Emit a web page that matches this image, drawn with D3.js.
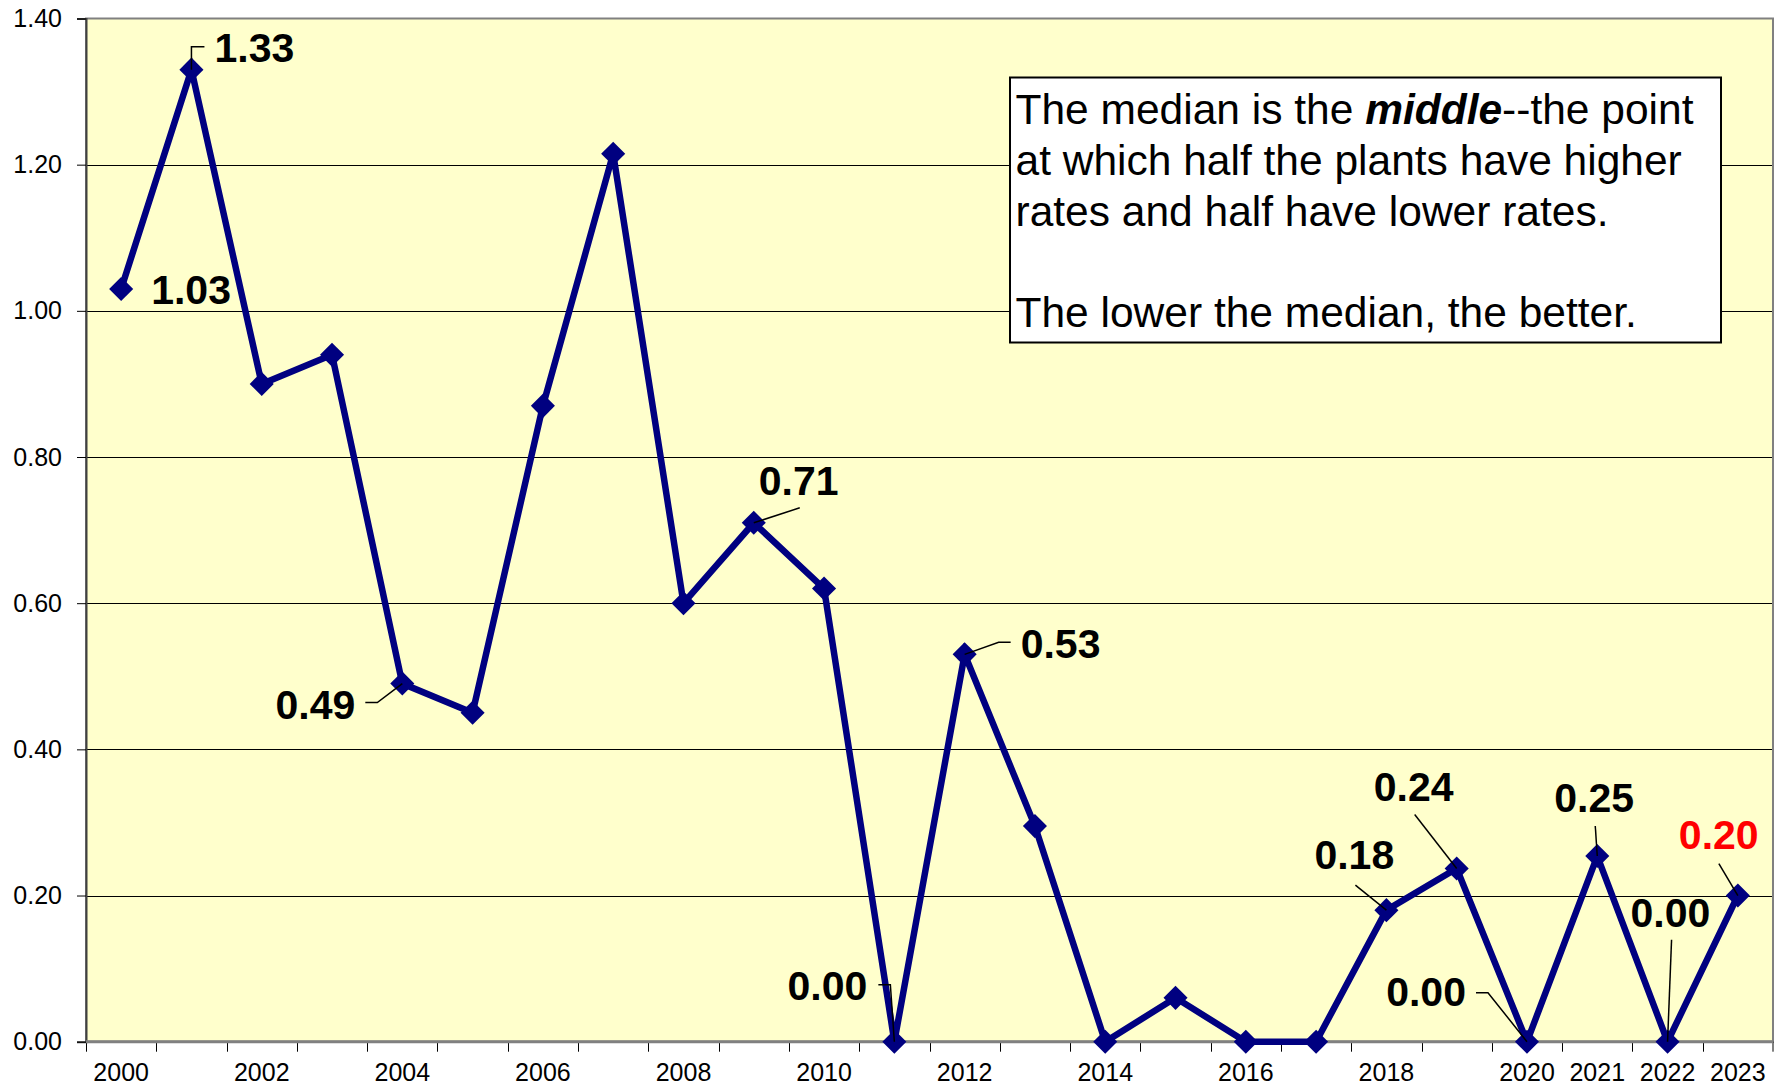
<!DOCTYPE html>
<html>
<head>
<meta charset="utf-8">
<script src="https://cdn.jsdelivr.net/npm/d3@7"></script>
<style>
  body { margin: 0; background: #fff; }
  svg { display: block; font-family: Arial, "Liberation Sans", sans-serif; }
</style>
</head>
<body>
<div id="chart"></div>
<script>
// data
var years = ["2000","2001","2002","2003","2004","2005","2006","2007","2008","2009","2010","2011",
             "2012","2013","2014","2015","2016","2017","2018","2019","2020","2021","2022","2023"];
var medians = [1.03, 1.33, 0.90, 0.94, 0.49, 0.45, 0.87, 1.215, 0.60, 0.71, 0.62, 0.00,
               0.53, 0.295, 0.00, 0.06, 0.00, 0.00, 0.18, 0.237, 0.00, 0.254, 0.00, 0.20];
var xTickLabels = ["2000","","2002","","2004","","2006","","2008","","2010","",
                   "2012","","2014","","2016","","2018","","2020","2021","2022","2023"];
var yTicks = [0, 0.2, 0.4, 0.6, 0.8, 1.0, 1.2, 1.4];
var labelledYears = ["2000","2001","2004","2009","2011","2012","2018","2019","2020","2021","2022","2023"];
var noteLines = [
  [{t: "The median is the "}, {t: "middle", em: true}, {t: "--the point"}],
  [{t: "at which half the plants have higher"}],
  [{t: "rates and half have lower rates."}],
  [{t: ""}],
  [{t: "The lower the median, the better."}]
];

// layout of the data label callouts (offsets from the point, in px)
var callouts = {
  "2000": {dx: 30, dy: 15, anchor: "start", leader: null},
  "2001": {dx: 23, dy: -8, anchor: "start", leader: [[0, 0], [0, -23], [13, -23]]},
  "2004": {dx: -47, dy: 35, anchor: "end", leader: [[0, 0], [-25, 19], [-37, 19]]},
  "2009": {dx: 5, dy: -28, anchor: "start", leader: [[0, 0], [46, -15]]},
  "2011": {dx: -27, dy: -42, anchor: "end", leader: [[0, 0], [-4, -57], [-16, -57]]},
  "2012": {dx: 56, dy: 4, anchor: "start", leader: [[0, 0], [34, -12], [46, -12]]},
  "2018": {dx: -72, dy: -41, anchor: "start", leader: [[0, 0], [-31, -25]]},
  "2019": {dx: -83, dy: -67, anchor: "start", leader: [[0, 0], [-42, -54]]},
  "2020": {dx: -61, dy: -36, anchor: "end", leader: [[0, 0], [-39, -49], [-51, -49]]},
  "2021": {dx: -43, dy: -44, anchor: "start", leader: [[0, 0], [-2, -30]]},
  "2022": {dx: -37, dy: -115, anchor: "start", leader: [[0, 0], [4, -102]]},
  "2023": {dx: -59, dy: -47, anchor: "start", leader: [[0, 0], [-19, -32]], color: "#ff0000"}
};

var width = 1785, height = 1087;
var plot = {left: 86, right: 1773, top: 18.5, bottom: 1041.7};

var svg = d3.select("#chart").append("svg")
  .attr("width", width)
  .attr("height", height);

var x = d3.scaleBand()
  .domain(years)
  .range([plot.left, plot.right])
  .padding(0);

var y = d3.scaleLinear()
  .domain([0, 1.4])
  .range([plot.bottom, plot.top]);

var cx = function(yr) { return x(yr) + x.bandwidth() / 2; };

// plot background
svg.append("rect")
  .attr("x", plot.left).attr("y", plot.top)
  .attr("width", plot.right - plot.left).attr("height", plot.bottom - plot.top)
  .attr("fill", "#ffffcc");

// gridlines
svg.append("g").attr("class", "grid")
  .selectAll("line")
  .data(yTicks.filter(function(d) { return d > 0 && d < 1.4; }))
  .enter().append("line")
  .attr("x1", plot.left).attr("x2", plot.right)
  .attr("y1", function(d) { return Math.round(y(d)) + 0.5; })
  .attr("y2", function(d) { return Math.round(y(d)) + 0.5; })
  .attr("stroke", "#000").attr("stroke-width", 1);

// frame
svg.append("rect")
  .attr("x", plot.left).attr("y", plot.top)
  .attr("width", plot.right - plot.left).attr("height", plot.bottom - plot.top)
  .attr("fill", "none").attr("stroke", "#808080").attr("stroke-width", 2);

// y axis
var leftAxis = d3.axisLeft(y)
  .tickValues(yTicks)
  .tickFormat(d3.format(".2f"))
  .tickSize(9)
  .tickPadding(15);

var gy = svg.append("g")
  .attr("transform", "translate(" + plot.left + ",0)")
  .call(leftAxis);
gy.select(".domain").attr("stroke", "#404040").attr("stroke-width", 2);
gy.selectAll(".tick line").attr("stroke", "#000");
gy.selectAll(".tick text").attr("font-size", 25).attr("font-family", null).attr("fill", "#000");

// x axis: labels at category centres, ticks between categories
var bottomAxis = d3.axisBottom(x)
  .tickFormat(function(d, i) { return xTickLabels[i]; })
  .tickSize(0)
  .tickPadding(22);

var gx = svg.append("g")
  .attr("transform", "translate(0," + plot.bottom + ")")
  .call(bottomAxis);
gx.select(".domain").remove();
gx.selectAll(".tick text").attr("font-size", 25).attr("font-family", null).attr("fill", "#000");

svg.append("g").attr("class", "xticks")
  .selectAll("line")
  .data(years.concat(["end"]))
  .enter().append("line")
  .attr("x1", function(d) { return d === "end" ? plot.right : Math.round(x(d)) + 0.5; })
  .attr("x2", function(d) { return d === "end" ? plot.right : Math.round(x(d)) + 0.5; })
  .attr("y1", plot.bottom).attr("y2", plot.bottom + 10)
  .attr("stroke", "#000").attr("stroke-width", 1);

svg.append("line")
  .attr("x1", plot.left).attr("x2", plot.right)
  .attr("y1", plot.bottom).attr("y2", plot.bottom)
  .attr("stroke", "#808080").attr("stroke-width", 3);

// series line
var line = d3.line()
  .x(function(d, i) { return cx(years[i]); })
  .y(function(d) { return y(d); });

svg.append("path")
  .datum(medians)
  .attr("d", line)
  .attr("fill", "none")
  .attr("stroke", "#000080")
  .attr("stroke-width", 6.5)
  .attr("stroke-linejoin", "miter");

// diamond markers
svg.append("g").attr("class", "markers")
  .selectAll("path")
  .data(medians)
  .enter().append("path")
  .attr("d", d3.symbol().type(d3.symbolSquare).size(290))
  .attr("transform", function(d, i) {
    return "translate(" + cx(years[i]) + "," + y(d) + ") rotate(45)";
  })
  .attr("fill", "#000080");

// data labels with leader lines
var labelled = labelledYears.map(function(yr) {
  var i = years.indexOf(yr);
  return {year: yr, value: medians[i], px: cx(yr), py: y(medians[i]), c: callouts[yr]};
});

svg.append("g").attr("class", "leaders")
  .selectAll("path")
  .data(labelled.filter(function(d) { return d.c.leader; }))
  .enter().append("path")
  .attr("d", function(d) {
    return d3.line()(d.c.leader.map(function(p) { return [d.px + p[0], d.py + p[1]]; }));
  })
  .attr("fill", "none")
  .attr("stroke", "#000")
  .attr("stroke-width", 1.5);

svg.append("g").attr("class", "labels")
  .selectAll("text")
  .data(labelled)
  .enter().append("text")
  .attr("x", function(d) { return d.px + d.c.dx; })
  .attr("y", function(d) { return d.py + d.c.dy; })
  .attr("text-anchor", function(d) { return d.c.anchor; })
  .attr("font-size", 41)
  .attr("font-weight", "bold")
  .attr("fill", function(d) { return d.c.color || "#000"; })
  .text(function(d) { return d3.format(".2f")(d.value); });

// note box
var note = svg.append("g").attr("class", "note");
note.append("rect")
  .attr("x", 1010).attr("y", 77.5)
  .attr("width", 711).attr("height", 265)
  .attr("fill", "#fff").attr("stroke", "#000").attr("stroke-width", 2);

note.selectAll("text")
  .data(noteLines)
  .enter().append("text")
  .attr("x", 1015.5)
  .attr("y", function(d, i) { return 124.3 + i * 50.7; })
  .attr("font-size", 42.5)
  .attr("fill", "#000")
  .each(function(parts) {
    var t = d3.select(this);
    parts.forEach(function(p) {
      var s = t.append("tspan").text(p.t);
      if (p.em) s.attr("font-weight", "bold").attr("font-style", "italic");
    });
  });
</script>
</body>
</html>
